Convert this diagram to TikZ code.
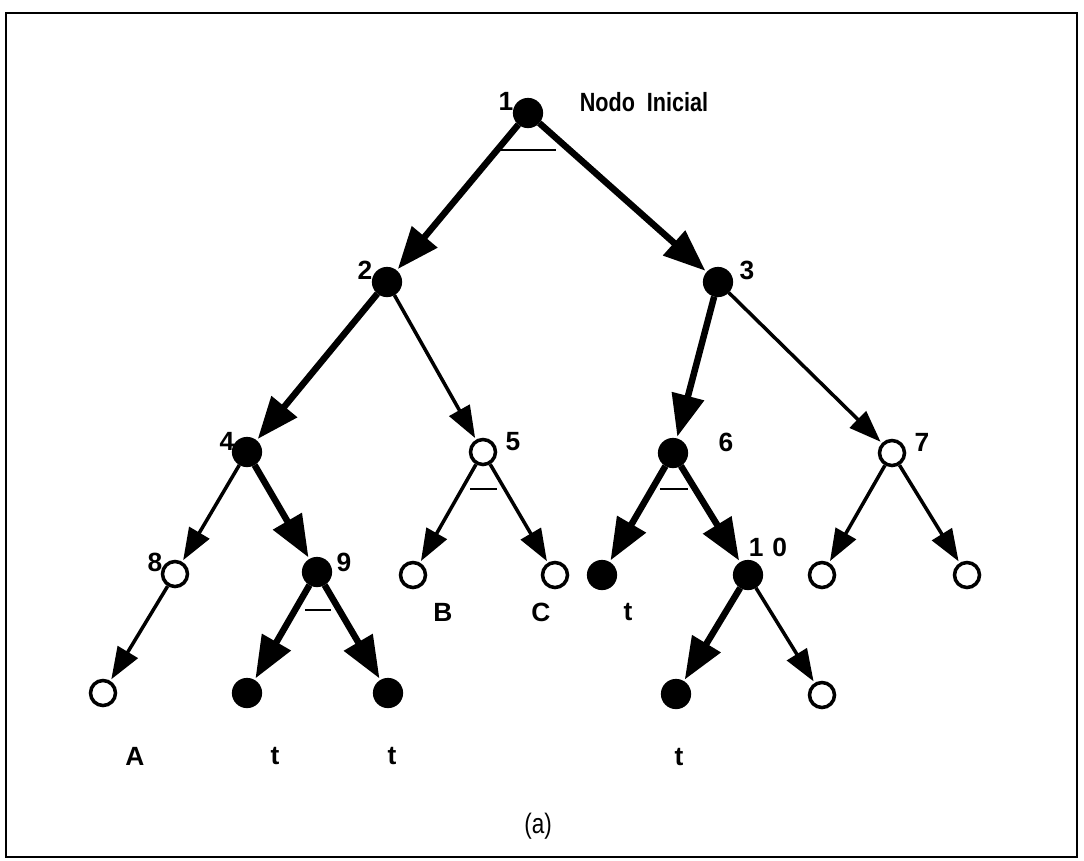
\documentclass[tikz,border=0pt]{standalone}
\usepackage{fontspec}
\setmainfont{Liberation Sans}
\usetikzlibrary{arrows.meta}

\begin{document}
\begin{tikzpicture}[x=0.02cm,y=-0.02cm,
          font=\fontsize{15}{17}\selectfont\bfseries,
          fn/.style={draw,circle,fill=black,minimum size=0.57cm,inner sep=0,line width=1pt},
          on/.style={draw,circle,fill=white,minimum size=0.5cm,inner sep=0,line width=2pt},
          hv/.style={-{Triangle[length=0.84cm,width=0.64cm]},line width=3.7pt,shorten >=1pt},
          lt/.style={-{Triangle[length=0.64cm,width=0.46cm]},line width=2pt,shorten >=1pt},
          andarc/.style={line width=1.6pt}]
        \useasboundingbox (0,0) rectangle (1084,860);
        \draw[line width=1.4pt] (6,13) rectangle (1077,857);

        % tree nodes
        \node[fn] (n1) at (528,113) {};
        \node[fn] (n2) at (387,282) {};
        \node[fn] (n3) at (718,282) {};
        \node[fn] (n4) at (247,452) {};
        \node[on] (n5) at (483,452) {};
        \node[fn] (n6) at (673,453) {};
        \node[on] (n7) at (892,453) {};
        \node[on] (n8) at (175,574) {};
        \node[fn] (n9) at (317,572) {};
        \node[on] (n5a) at (413,575) {};
        \node[on] (n5b) at (555,575) {};
        \node[fn] (n6a) at (602,575) {};
        \node[fn] (n10) at (748,575) {};
        \node[on] (n7a) at (822,575) {};
        \node[on] (n7b) at (967,575) {};
        \node[on] (n8a) at (103,693) {};
        \node[fn] (n9a) at (247,693) {};
        \node[fn] (n9b) at (388,693) {};
        \node[fn] (n10a) at (676,694) {};
        \node[on] (n10b) at (822,695) {};

        % labels
        \node (l1) at (506,101) {1};
        \node[xscale=0.82] (lini) at (644,102) {Nodo\ \ Inicial};
        \node (l2) at (365,270) {2};
        \node (l3) at (747,270) {3};
        \node (l4) at (227,441) {4};
        \node (l5) at (513,442) {5};
        \node (l6) at (726,442) {6};
        \node (l7) at (922,442) {7};
        \node (l8) at (155,562) {8};
        \node (l9) at (344,562) {9};
        \node (l10) at (768,547) {1\,\,0};
        \node (lb) at (443,612) {B};
        \node (lc) at (541,612) {C};
        \node (lt6) at (628,612) {t};
        \node (la) at (135,756) {A};
        \node (lt9a) at (275,756) {t};
        \node (lt9b) at (392,756) {t};
        \node (lt10) at (679,757) {t};
        \node[font=\fontsize{16}{18}\selectfont,xscale=0.8] (cap) at (538,826) {(a)};

        % arcs of the tree
        \draw[hv] (n1) -- (n2); \draw[hv] (n1) -- (n3);
        \draw[hv] (n2) -- (n4); \draw[lt] (n2) -- (n5);
        \draw[hv] (n3) -- (n6); \draw[lt] (n3) -- (n7);
        \draw[lt] (n4) -- (n8); \draw[hv] (n4) -- (n9);
        \draw[lt] (n5) -- (n5a); \draw[lt] (n5) -- (n5b);
        \draw[hv] (n6) -- (n6a); \draw[hv] (n6) -- (n10);
        \draw[lt] (n7) -- (n7a); \draw[lt] (n7) -- (n7b);
        \draw[lt] (n8) -- (n8a);
        \draw[hv] (n9) -- (n9a); \draw[hv] (n9) -- (n9b);
        \draw[hv] (n10) -- (n10a); \draw[lt] (n10) -- (n10b);

        % AND marks
        \draw[andarc] (497,150) -- (556,150);
        \draw[andarc] (470,489) -- (497,489);
        \draw[andarc] (660,489) -- (688,489);
        \draw[andarc] (305,610) -- (331,610);
      \end{tikzpicture}
\end{document}
